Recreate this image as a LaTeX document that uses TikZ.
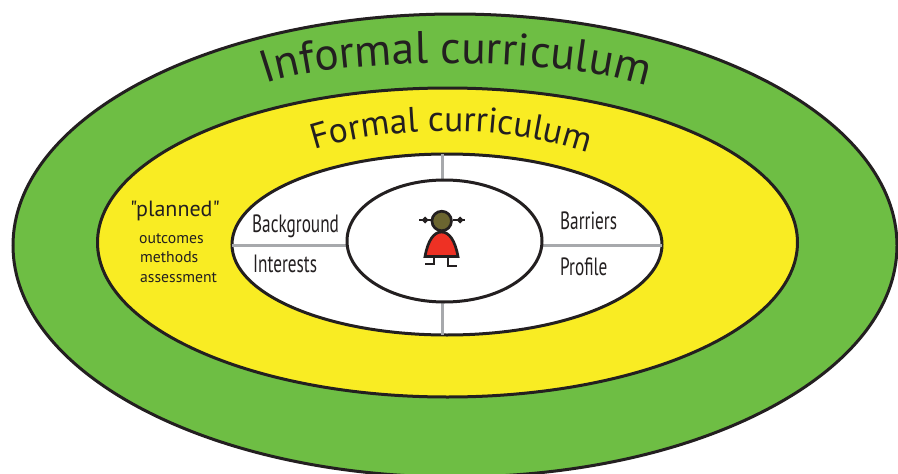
\documentclass[tikz,border=0pt]{standalone}
\usepackage{fontspec}
\setmainfont{PT Sans}
\newfontfamily\quotefont{PT Sans}
\usetikzlibrary{shapes.geometric,decorations.text}
\definecolor{ink}{HTML}{231F20}
\definecolor{informalgreen}{HTML}{6EBE44}
\definecolor{formalyellow}{HTML}{F9EC23}
\definecolor{spokegray}{HTML}{A7A9AC}
\definecolor{dressred}{HTML}{EE3124}
\definecolor{headolive}{HTML}{6B6530}
\newcommand{\ring}[3]{node[ring,fill=#1,minimum width=#2pt,minimum height=#3pt]}
\newcommand{\bow}[1]{\fill[ink] (#1-3.5,220) -- (#1,216.5) -- (#1+3.5,220) -- (#1,223.5) -- cycle;}
\tikzset{
  ring/.style={ellipse,draw=ink,line width=3pt,inner sep=0pt,outer sep=0pt},
  spoke/.style={draw=spokegray,line width=3pt},
  girl/.style={draw=ink,line width=2.7pt},
  sidelabel/.style={anchor=base west,inner sep=0pt,text=ink,font=\fontsize{25}{25}\selectfont,xscale=.69},
  smalllabel/.style={anchor=base west,inner sep=0pt,text=ink,font=\fontsize{15.7}{16}\selectfont}
}
\begin{document}
\begin{tikzpicture}[x=1pt,y=-1pt]
\useasboundingbox (0,0) rectangle (898,474);
\path (455,245.5) \ring{informalgreen}{884}{463} (informal) {};
\path (447.5,242.5) \ring{formalyellow}{700}{309} (formal) {};
\path (447,244.5) \ring{white}{430}{181} (context) {};
% spokes
\coordinate (top) at (442.5,154);
\coordinate (bottom) at (442.5,335);
\coordinate (left) at (232,245);
\coordinate (right) at (662,245);
\path (444.5,241) coordinate (learner);
\draw[spoke] (top) -- (bottom);
\draw[spoke] (left) -- (right);
\path (learner) \ring{white}{195}{122} (inner) {};
% curved titles
\path[decorate,decoration={text along path,text align=center,
  text={|\fontsize{45.5}{46}\selectfont\color{ink}|Informal curriculum}}]
  (258,87) .. controls (330,55) and (570,55) .. (654,89);
\path[decorate,decoration={text along path,text align=center,
  text={|\fontsize{35.5}{36}\selectfont\color{ink}|Formal curriculum}}]
  (310,151) .. controls (390,124) and (510,124) .. (592,154);
% labels
\node[anchor=base west,inner sep=0pt,text=ink,font=\fontsize{22}{22}\quotefont] (planned) at (130,216) {"planned"};
\node[smalllabel] (outcomes) at (139,243) {outcomes};
\node[smalllabel] (methods) at (140,262) {methods};
\node[smalllabel] (assessment) at (140,282) {assessment};
\node[sidelabel] (background) at (252,232) {Background};
\node[sidelabel] (interests) at (253,272.5) {Interests};
\node[sidelabel] (barriers) at (560,229) {Barriers};
\node[sidelabel] (profile) at (560,275) {Profile};
% the girl
\draw[girl] (419,220) -- (431,220) (453,220) -- (465,220);
\bow{425}
\bow{460}
\draw[girl] (434,256) -- (434,264) -- (425,264) (448,256) -- (448,266) -- (457,266);
\draw[girl,fill=dressred] (425,256.5) .. controls (428,240) and (434,232) .. (441.5,232)
  .. controls (449,232) and (455,240) .. (458,256.5) -- cycle;
\node[circle,girl,fill=headolive,minimum size=19.5pt,inner sep=0pt] (head) at (441.7,221) {};
\end{tikzpicture}
\end{document}
